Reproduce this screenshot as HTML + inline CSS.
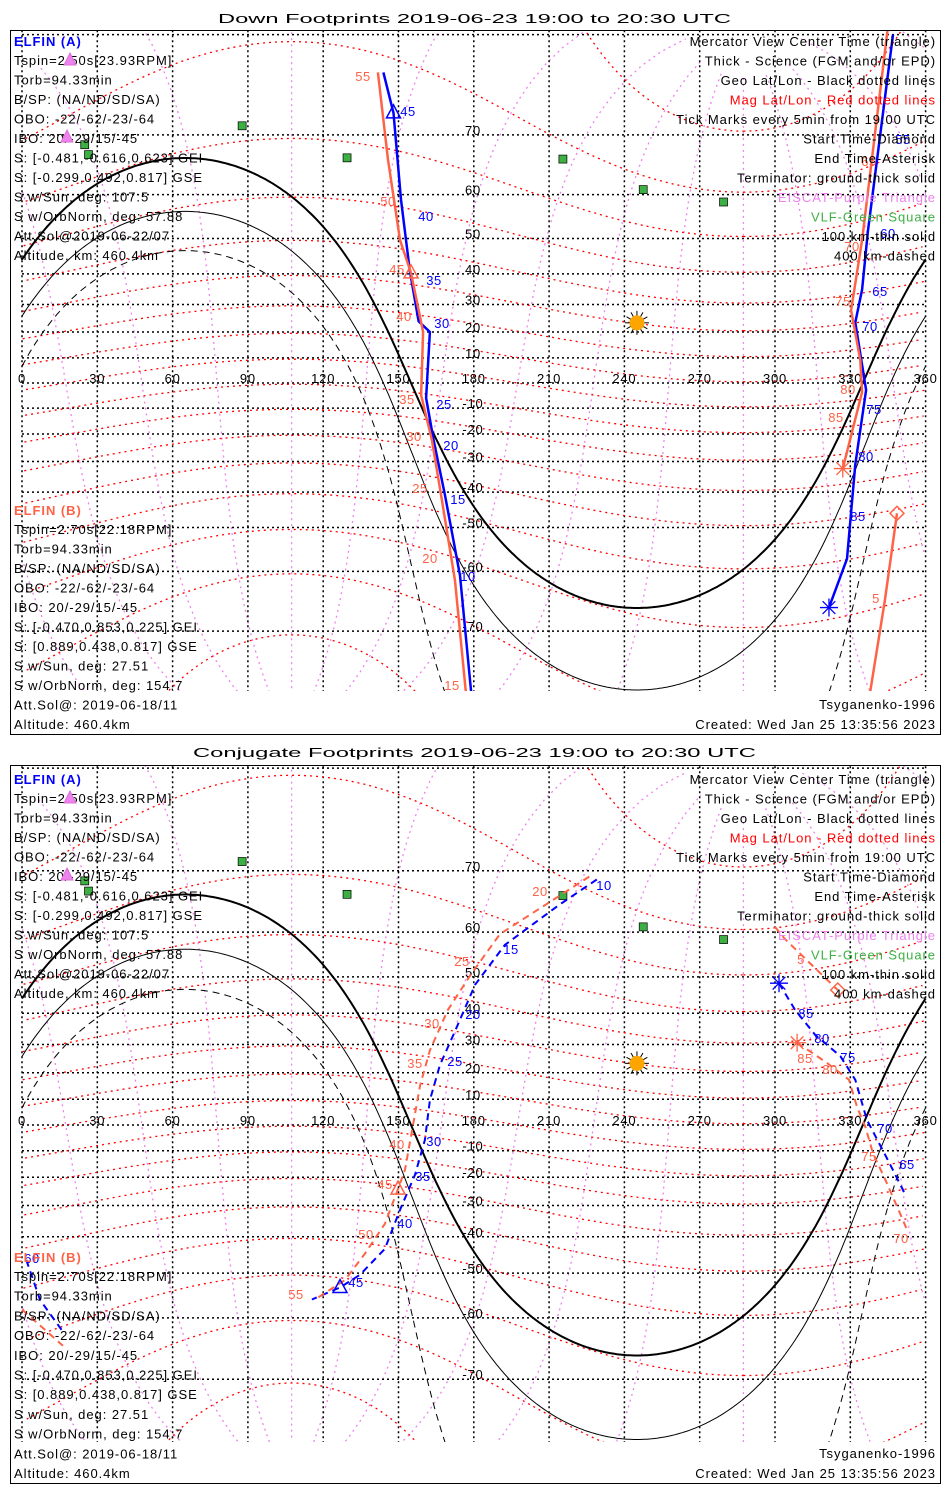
<!DOCTYPE html>
<html><head><meta charset="utf-8"><style>
html,body{margin:0;background:#fff;overflow:hidden;width:950px;height:1500px}
svg{display:block}
text{font-family:"Liberation Sans",sans-serif;font-size:13px}
</style></head><body>
<svg id="s" width="950" height="1500" viewBox="0 0 950 1500" xmlns="http://www.w3.org/2000/svg">
<rect width="950" height="1500" fill="#fff"/>
<defs>
<clipPath id="c1"><rect x="11" y="31" width="929" height="660"/></clipPath>
<clipPath id="c2"><rect x="11" y="766" width="929" height="676"/></clipPath>
</defs>
<text x="218" y="23" font-size="19" textLength="513" lengthAdjust="spacingAndGlyphs">Down Footprints 2019-06-23 19:00 to 20:30 UTC</text>
<rect x="10.5" y="30.5" width="930" height="704" fill="none" stroke="#000"/>
<text x="193" y="757" font-size="19" textLength="563" lengthAdjust="spacingAndGlyphs">Conjugate Footprints 2019-06-23 19:00 to 20:30 UTC</text>
<rect x="10.5" y="765.5" width="930" height="718" fill="none" stroke="#000"/>
<g id="g1" clip-path="url(#c1)"></g>
<g id="g2" clip-path="url(#c2)"></g>
<g id="t"></g>
</svg>
<script>
// ---- data ----
const lonTicks=[0,30,60,90,120,150,180,210,240,270,300,330,360];
const latTicks=[-70,-60,-50,-40,-30,-20,-10,10,20,30,40,50,60,70];
const magLats=[-80,-70,-60,-50,-40,-30,-20,-10,0,10,20,30,40,50,60,70,80];
const magLons=[0,30,60,90,120,150,180,210,240,270,300,330];
const sunLon=245, sunDec=23.43;
const termDepress=[0,10.1,19.8];
const greenLon=[87.7,25,26.5,129.5,215.5,247.5,279.5];
const greenLat=[71.2,68.6,67.1,66.6,66.4,61.0,58.5];
// Down panel tracks
const aTopLLon=[144,148,151,154.5,158,162.5,161,164,168.5,174.5,179];
const aTopLLat=[77,72.8,59,41,24,20,-6,-22.3,-40.8,-60.8,-77];
const aTopRLon=[347,337,334.7,332,336.3,332,328.7,321.5];
const aTopRLat=[80,51.8,35,23.6,-2.8,-31,-57.4,-66.5];
const bTopLLon=[141.8,145.8,150.6,155,159.8,159,163.3,167.3,172.5,176.9];
const bTopLLat=[77,66.3,49.6,40.3,20,-4.8,-22.3,-42.4,-61.8,-77];
const bTopRLon=[345,334.7,330.3,334,334.7,327];
const bTopRLat=[80.5,49.6,28,9.1,-3.6,-32.4];
const bTopR2Lon=[348.6,343.8,337.8];
const bTopR2Lat=[-46.2,-65.3,-77];
// Conjugate panel tracks
const aBotLLon=[229,214,192.4,180.5,172.5,166.5,162.5,160.5,156.6,150.6,144.6,134.7,126.7,115.5];
const aBotLLat=[68.8,64.9,57.4,48,34.4,22.8,9.7,-5.8,-19,-31.5,-43.5,-50.4,-53.5,-56.2];
const aBotRLon=[301.6,308,316,326,332,336.6,345,351.8,361.7,367.2,376];
const aBotRLat=[48.4,41,33.2,26,17.4,2,-13.6,-26,-46.6,-56.3,-62.4];
const bBotLLon=[226,190.4,178.5,169.7,162.5,158.6,155.4,152.6,149.8,144.6,136.7,128.7,116.7];
const bBotLLat=[69.2,59.6,50.3,41,28,15.3,-2,-17.2,-24.3,-36,-44.8,-51.7,-56.2];
const bBotR1Lon=[300,304,325];
const bBotR1Lat=[61,58.6,46.6];
const bBotR2Lon=[308.8,320.7,329.5,332.7,336,339,343.8,349.8,353,360,376.3];
const bBotR2Lat=[30.6,23.6,17.4,7,-0.8,-10.9,-20.6,-32.6,-38.6,-58.3,-65];

const P1={eq:383,k:143,g:'g1'}, P2={eq:1125,k:146.5,g:'g2'};
const NS='http://www.w3.org/2000/svg';
const rad=Math.PI/180;
function X(lon){return 22+(((lon%360)+360)%360)*2.51;}
function Xr(lon){return 22+lon*2.51;}
function Y(lat,p){lat=Math.max(-88,Math.min(88,lat));return p.eq-p.k*Math.log(Math.tan(Math.PI/4+lat*rad/2));}
function el(tag,attrs,parent){const e=document.createElementNS(NS,tag);for(const a in attrs)e.setAttribute(a,attrs[a]);(parent||document.getElementById('t')).appendChild(e);return e;}
function pathD(lons,lats,p,wrap){let d='',px=null;for(let i=0;i<lons.length;i++){const x=wrap?X(lons[i]):Xr(lons[i]),y=Y(lats[i],p);if(px===null||Math.abs(x-px)>300)d+='M'+x.toFixed(1)+' '+y.toFixed(1);else d+='L'+x.toFixed(1)+' '+y.toFixed(1);px=x;}return d;}
function magToGeo(mlat,mlon){const pn=287.4*rad,th=(90-80.5)*rad;
 let x=Math.cos(mlat*rad)*Math.cos(mlon*rad),y=Math.cos(mlat*rad)*Math.sin(mlon*rad),z=Math.sin(mlat*rad);
 let x1=x*Math.cos(th)+z*Math.sin(th),z1=-x*Math.sin(th)+z*Math.cos(th),y1=y;
 let x2=x1*Math.cos(pn)-y1*Math.sin(pn),y2=x1*Math.sin(pn)+y1*Math.cos(pn);
 return [Math.atan2(y2,x2)/rad,Math.asin(Math.max(-1,Math.min(1,z1)))/rad];}

function drawPanel(p,pi){
 const g=document.getElementById(p.g);
 magLons.forEach(ml=>{const lo=[],la=[];for(let m=-86;m<=86;m+=2){const r=magToGeo(m,ml);lo.push(r[0]);la.push(r[1]);}
  const e=el('path',{d:pathD(lo,la,p,true),fill:'none',stroke:'#ee82ee','stroke-width':1.3,'stroke-dasharray':'2,4'},g);
  
  });
 lonTicks.forEach(l=>{const e=el('line',{x1:Xr(l),x2:Xr(l),y1:Y(85,p),y2:Y(-85,p),stroke:'#000','stroke-width':1.5,'stroke-dasharray':'2,3'},g);
  
  });
 latTicks.concat([0,80,-80]).forEach(l=>{const e=el('line',{x1:Xr(0),x2:Xr(360),y1:Y(l,p),y2:Y(l,p),stroke:'#000','stroke-width':1.5,'stroke-dasharray':'2,3'},g);
  
  });
 magLats.forEach(ml=>{const lo=[],la=[];for(let m=0;m<=360;m+=2){const r=magToGeo(ml,m);lo.push(r[0]);la.push(r[1]);}
  const e=el('path',{d:pathD(lo,la,p,true),fill:'none',stroke:'#ff0000','stroke-width':1.3,'stroke-dasharray':'2,4'},g);
  
  });
 termDepress.forEach((d,i)=>{const lo=[],la=[];for(let l=0;l<=360;l+=1){const A=Math.sin(sunDec*rad),B=Math.cos(sunDec*rad)*Math.cos((l-sunLon)*rad),C=-Math.sin(d*rad);const R=Math.hypot(A,B);
   lo.push(l);la.push((Math.asin(C/R)-Math.atan2(B,A))/rad);}
  const e=el('path',{d:pathD(lo,la,p,false),fill:'none',stroke:'#000','stroke-width':i==0?2:1,'stroke-dasharray':i==2?'7,5':'none'},g);
  
  });
 lonTicks.forEach(l=>{const e=el('text',{x:Xr(l),y:p.eq,'text-anchor':'middle',fill:'#000','letter-spacing':'0.8'},g);e.textContent=l;
  
  });
 latTicks.forEach(l=>{const e=el('text',{x:473,y:Y(l,p),'text-anchor':'middle',fill:'#000','letter-spacing':'0.8'},g);e.textContent=l;
  
  });
 greenLon.forEach((l,i)=>{const e=el('rect',{x:X(l)-4,y:Y(greenLat[i],p)-4,width:8,height:8,fill:'#3cb043',stroke:'#000','stroke-width':0.7},g);
  
  });
 const sx=X(sunLon),sy=Y(sunDec,p);
 for(let a=0;a<360;a+=30){const r=el('line',{x1:sx+7*Math.cos(a*rad),y1:sy+7*Math.sin(a*rad),x2:sx+12*Math.cos(a*rad),y2:sy+12*Math.sin(a*rad),stroke:'#000','stroke-width':1},g);
  
  }
 const sc=el('circle',{cx:sx,cy:sy,r:7.5,fill:'#ffa500'},g);
 
 
}
drawPanel(P1,1);drawPanel(P2,2);

function track(lons,lats,p,color,dash,name){const g=document.getElementById(p.g);
 const e=el('path',{d:pathD(lons,lats,p,true),fill:'none',stroke:color,'stroke-width':dash?2:2.5,'stroke-dasharray':dash?'7,5':'none'},g);
 
 }
const BL='#0000ff',RD='#ff6347';
track(aTopLLon,aTopLLat,P1,BL,false,'elfin-a-track');
track(aTopRLon,aTopRLat,P1,BL,false,'elfin-a-track');
track(bTopLLon,bTopLLat,P1,RD,false,'elfin-b-track');
track(bTopRLon,bTopRLat,P1,RD,false,'elfin-b-track');
track(bTopR2Lon,bTopR2Lat,P1,RD,false,'elfin-b-track');
track(aBotLLon,aBotLLat,P2,BL,true,'elfin-a-conjugate-track');
track(aBotRLon,aBotRLat,P2,BL,true,'elfin-a-conjugate-track');
track(bBotLLon,bBotLLat,P2,RD,true,'elfin-b-conjugate-track');
track(bBotR1Lon,bBotR1Lat,P2,RD,true,'elfin-b-conjugate-track');
track(bBotR2Lon,bBotR2Lat,P2,RD,true,'elfin-b-conjugate-track');

function marker(type,lon,lat,p,color,name){const g=document.getElementById(p.g),x=X(lon),y=Y(lat,p);let e;
 if(type=='tri')e=el('path',{d:`M${x} ${y-8}L${x+7} ${y+5}L${x-7} ${y+5}Z`,fill:'none',stroke:color,'stroke-width':1.5},g);
 else if(type=='dia')e=el('path',{d:`M${x} ${y-7}L${x+7} ${y}L${x} ${y+7}L${x-7} ${y}Z`,fill:'none',stroke:color,'stroke-width':1.5},g);
 else {let d='';for(let a=0;a<180;a+=45)d+=`M${x+9*Math.cos(a*rad)} ${y+9*Math.sin(a*rad)}L${x-9*Math.cos(a*rad)} ${y-9*Math.sin(a*rad)}`;e=el('path',{d:d,stroke:color,'stroke-width':1.3},g);}
 
 }
marker('tri',aTopLLon[1],aTopLLat[1],P1,BL,'elfin-a-center-triangle');
marker('tri',bTopLLon[3],bTopLLat[3],P1,RD,'elfin-b-center-triangle');
marker('ast',aTopRLon[7],aTopRLat[7],P1,BL,'elfin-a-end-asterisk');
marker('ast',bTopRLon[5],bTopRLat[5],P1,RD,'elfin-b-end-asterisk');
marker('dia',bTopR2Lon[0],bTopR2Lat[0],P1,RD,'elfin-b-start-diamond');
marker('tri',aBotLLon[12],aBotLLat[12],P2,BL,'elfin-a-center-triangle');
marker('tri',bBotLLon[8],bBotLLat[8],P2,RD,'elfin-b-center-triangle');
marker('ast',aBotRLon[0],aBotRLat[0],P2,BL,'elfin-a-end-asterisk');
marker('ast',bBotR2Lon[0],bBotR2Lat[0],P2,RD,'elfin-b-end-asterisk');
marker('dia',bBotR1Lon[2],bBotR1Lat[2],P2,RD,'elfin-b-start-diamond');

function lbl(list,color){list.forEach(([s,x,y])=>{const e=el('text',{x:x,y:y+6,'text-anchor':'middle',fill:color,'font-size':16,'letter-spacing':'0.5'});e.textContent=s;
 
 });}
lbl([['45',408,110],['40',426,215],['35',434,279],['30',442,322],['25',444,403],['20',451,444],['15',458,498],['10',468,575],['55',903,138],['60',888,232],['65',880,290],['70',870,325],['75',874,408],['80',866,455],['85',858,515]],BL);
lbl([['55',363,75],['50',388,200],['45',397,268],['40',404,315],['35',407,398],['30',414,435],['25',420,487],['20',430,557],['15',452,684],['65',869,160],['70',852,245],['75',843,300],['80',848,388],['85',836,416],['5',876,597]],RD);
lbl([['10',604,884],['15',511,948],['20',473,1013],['25',455,1060],['30',434,1140],['35',423,1175],['40',405,1222],['45',356,1281],['60',32,1257],['85',806,1012],['80',822,1037],['75',848,1056],['70',885,1127],['65',907,1163]],BL);
lbl([['20',540,890],['25',462,960],['30',432,1022],['35',415,1062],['40',397,1143],['45',385,1183],['50',366,1233],['55',296,1293],['5',801,958],['85',805,1057],['80',830,1068],['75',869,1155],['70',901,1237]],RD);

const leftA=['Tspin=2.50s[23.93RPM]','Torb=94.33min','B/SP: (NA/ND/SD/SA)','OBO: -22/-62/-23/-64','IBO: 20/-29/15/-45','S: [-0.481,-0.616,0.623] GEI','S: [-0.299,0.492,0.817] GSE','S w/Sun, deg: 107.5','S w/OrbNorm, deg: 57.88','Att.Sol@2019-06-22/07','Altitude, km: 460.4km'];
const leftB=['Tspin=2.70s[22.18RPM]','Torb=94.33min','B/SP: (NA/ND/SD/SA)','OBO: -22/-62/-23/-64','IBO: 20/-29/15/-45','S: [-0.470,0.853,0.225] GEI','S: [0.889,0.438,0.817] GSE','S w/Sun, deg: 27.51','S w/OrbNorm, deg: 154.7','Att.Sol@: 2019-06-18/11','Altitude: 460.4km'];
const rightT=[['Mercator View Center Time (triangle)','#000'],['Thick - Science (FGM and/or EPD)','#000'],['Geo Lat/Lon - Black dotted lines','#000'],['Mag Lat/Lon - Red dotted lines','#ff0000'],['Tick Marks every 5min from 19:00 UTC','#000'],['Start Time-Diamond','#000'],['End Time-Asterisk','#000'],['Terminator: ground-thick solid','#000'],['EISCAT-Purple Triangle','#ee82ee'],['VLF-Green Square','#3cb043'],['100 km-thin solid','#000'],['400 km-dashed','#000']];
function txt(s,x,y,color,anchor,name,extra){const e=el('text',Object.assign({x:x,y:y,fill:color,'text-anchor':anchor,'letter-spacing':'0.95'},extra||{}));e.textContent=s;
 
 }
[[0,0,0],[738,747,749]].forEach(([oT,oB,oE],pi)=>{
 txt('ELFIN (A)',14,46+oT,'#0000ff','start','elfin-a-header',{'font-weight':'bold'});
 leftA.forEach((s,i)=>txt(s,14,65+i*19.5+oT,'#000','start','elfin-a-info'));
 txt('ELFIN (B)',14,515+oB,'#ff6347','start','elfin-b-header',{'font-weight':'bold'});
 leftB.forEach((s,i)=>txt(s,14,534+i*19.5+oB+(i/10)*(oE-oB),'#000','start','elfin-b-info'));
 rightT.forEach(([s,c],i)=>txt(s,936,46+i*19.5+oT,c,'end','legend-text'));
 txt('Tsyganenko-1996',936,709+oE,'#000','end','model-label');
 txt('Created: Wed Jan 25 13:35:56 2023',936,729+oE,'#000','end','created-label');
 [[70,60],[67,137]].forEach(([x,y])=>{const e=el('path',{d:`M${x} ${y+oT-7}L${x+6} ${y+oT+5}L${x-6} ${y+oT+5}Z`,fill:'#ee82ee',stroke:'#da70d6'});
  
  });
});
</script>
</body></html>
